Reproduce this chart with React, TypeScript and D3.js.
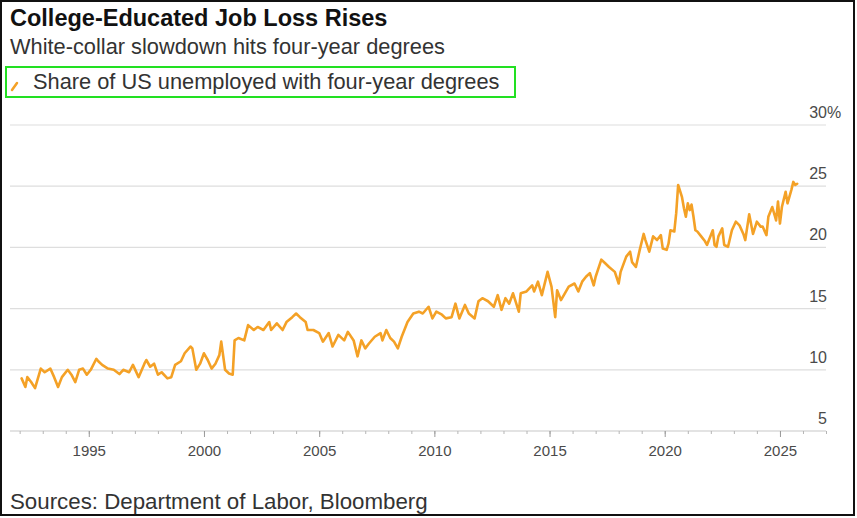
import React, { useEffect, useRef } from 'react';
import * as d3 from 'd3';

// Share of US unemployed with four-year degrees (%)
const months = [
  '1992-02', '1992-04', '1992-05', '1992-07', '1992-09', '1992-12', '1993-02', '1993-05', '1993-07', '1993-09',
  '1993-11', '1994-02', '1994-04', '1994-06', '1994-08', '1994-10', '1994-12', '1995-02', '1995-05', '1995-06',
  '1995-08', '1995-11', '1996-02', '1996-05', '1996-07', '1996-10', '1996-12', '1997-03', '1997-06', '1997-07',
  '1997-09', '1997-11', '1998-01', '1998-03', '1998-06', '1998-08', '1998-10', '1999-01', '1999-03', '1999-06',
  '1999-07', '1999-09', '1999-11', '2000-01', '2000-03', '2000-05', '2000-07', '2000-09', '2000-10', '2000-12',
  '2001-02', '2001-04', '2001-05', '2001-07', '2001-10', '2001-12', '2002-03', '2002-05', '2002-08', '2002-11',
  '2002-12', '2003-03', '2003-06', '2003-08', '2003-11', '2004-01', '2004-03', '2004-06', '2004-07', '2004-10',
  '2005-01', '2005-03', '2005-06', '2005-08', '2005-11', '2006-02', '2006-04', '2006-07', '2006-09', '2006-11',
  '2007-01', '2007-03', '2007-06', '2007-09', '2007-10', '2007-12', '2008-02', '2008-04', '2008-06', '2008-08',
  '2008-10', '2008-11', '2009-02', '2009-05', '2009-07', '2009-10', '2009-12', '2010-02', '2010-05', '2010-07',
  '2010-10', '2010-12', '2011-02', '2011-05', '2011-07', '2011-10', '2011-12', '2012-02', '2012-05', '2012-08',
  '2012-10', '2012-12', '2013-02', '2013-04', '2013-06', '2013-09', '2013-10', '2014-01', '2014-04', '2014-05',
  '2014-07', '2014-09', '2014-12', '2015-02', '2015-04', '2015-05', '2015-07', '2015-09', '2015-11', '2016-02',
  '2016-04', '2016-06', '2016-08', '2016-10', '2016-12', '2017-01', '2017-04', '2017-06', '2017-08', '2017-11',
  '2018-01', '2018-02', '2018-05', '2018-07', '2018-08', '2018-10', '2018-12', '2019-02', '2019-03', '2019-05',
  '2019-07', '2019-09', '2019-11', '2019-12', '2020-02', '2020-03', '2020-04', '2020-06', '2020-07', '2020-08',
  '2020-10', '2020-11', '2020-12', '2021-01', '2021-02', '2021-03', '2021-04', '2021-05', '2021-06', '2021-08',
  '2021-10', '2021-11', '2022-02', '2022-03', '2022-04', '2022-05', '2022-07', '2022-08', '2022-10', '2022-12',
  '2023-02', '2023-04', '2023-06', '2023-07', '2023-09', '2023-11', '2024-01', '2024-03', '2024-04', '2024-06',
  '2024-07', '2024-09', '2024-11', '2024-12', '2025-01', '2025-02', '2025-04', '2025-05', '2025-07', '2025-08',
  '2025-09', '2025-10',
];

const share = [
  9.3, 8.6, 9.4, 9.0, 8.5, 10.1, 9.8, 10.1, 9.4, 8.6,
  9.4, 10.0, 9.6, 9.0, 10.0, 10.1, 9.6, 10.0, 10.9, 10.7,
  10.4, 10.1, 10.0, 9.65, 10.0, 9.8, 10.4, 9.4, 10.5, 10.8,
  10.25, 10.5, 9.6, 9.8, 9.3, 9.4, 10.4, 10.7, 11.35, 11.9,
  11.75, 10.0, 10.5, 11.35, 10.8, 10.1, 10.5, 11.2, 12.3, 10.0,
  9.7, 9.6, 12.4, 12.6, 12.4, 13.65, 13.25, 13.5, 13.25, 13.9,
  13.25, 13.8, 13.25, 13.9, 14.3, 14.6, 14.3, 13.9, 13.25, 13.25,
  13.0, 12.3, 13.0, 11.9, 12.85, 12.4, 13.1, 12.4, 11.1, 12.4,
  11.75, 12.15, 12.7, 13.0, 12.4, 13.25, 12.6, 12.3, 11.75, 12.7,
  13.5, 13.9, 14.6, 14.75, 14.6, 15.15, 14.2, 14.75, 14.5, 14.2,
  14.3, 15.4, 14.2, 15.3, 14.6, 14.2, 15.6, 15.85, 15.6, 15.15,
  16.1, 14.9, 15.85, 15.4, 16.25, 14.75, 16.25, 16.4, 16.9, 16.4,
  17.2, 16.1, 18.0, 16.8, 14.3, 16.5, 15.7, 16.25, 16.8, 17.05,
  16.4, 17.2, 17.6, 17.9, 16.9, 17.6, 19.0, 18.7, 18.4, 18.0,
  17.05, 18.0, 19.25, 19.65, 18.8, 18.4, 19.8, 21.1, 20.6, 19.65,
  20.9, 20.6, 21.0, 19.9, 19.8, 20.3, 21.4, 21.3, 22.8, 25.1,
  24.1, 23.2, 22.5, 23.6, 23.05, 23.5, 22.5, 21.4, 21.3, 20.9,
  20.5, 20.2, 21.4, 20.2, 20.05, 20.9, 21.55, 20.2, 20.05, 21.4,
  22.1, 21.8, 21.1, 20.6, 22.7, 21.1, 22.1, 21.7, 21.7, 21.0,
  22.5, 23.3, 22.2, 23.75, 21.95, 23.3, 24.55, 23.6, 24.7, 25.35,
  25.1, 25.2,
];

const yTicks = [5, 10, 15, 20, 25, 30];
const majorYears = [1995, 2000, 2005, 2010, 2015, 2020, 2025];

const title = 'College-Educated Job Loss Rises';
const subtitle = 'White-collar slowdown hits four-year degrees';
const legendLabel = 'Share of US unemployed with four-year degrees';
const source = 'Sources: Department of Labor, Bloomberg';

const W = 857;
const H = 518;
const lineColor = '#f4a126';
const font = '"Liberation Sans", Arial, sans-serif';

interface Point {
  date: Date;
  value: number;
}

const App: React.FC = () => {
  const axisRef = useRef<SVGGElement>(null);

  const parse = d3.timeParse('%Y-%m');
  const data: Point[] = months.map((m, i) => ({ date: parse(m) as Date, value: share[i] }));

  const x = d3.scaleTime()
    .domain([new Date(1991, 7, 1), new Date(2027, 0, 1)])
    .range([10, 826]);

  const y = d3.scaleLinear()
    .domain([5, 30])
    .range([431, 125]);

  const line = d3.line<Point>()
    .x(d => x(d.date))
    .y(d => y(d.value));

  useEffect(() => {
    if (!axisRef.current) return;
    const g = d3.select(axisRef.current);
    g.selectAll('*').remove();

    // minor ticks every year
    const minor = d3.axisBottom(x)
      .ticks(d3.timeYear.every(1))
      .tickSize(3)
      .tickFormat(() => '');
    const gm = g.append('g').attr('transform', `translate(0,${y(5)})`).call(minor);
    gm.select('.domain').remove();
    gm.selectAll('line').attr('stroke', '#b5b5b5');

    // major ticks with labels
    const major = d3.axisBottom(x)
      .tickValues(majorYears.map(yr => new Date(yr, 0, 1)))
      .tickSize(6)
      .tickPadding(8)
      .tickFormat(d => d3.timeFormat('%Y')(d as Date));
    const gM = g.append('g').attr('transform', `translate(0,${y(5)})`).call(major);
    gM.select('.domain').remove();
    gM.selectAll('line').attr('stroke', '#9a9a9a');
    gM.selectAll('text')
      .attr('fill', '#4a4a4a')
      .attr('font-size', 15)
      .attr('font-family', font);
  }, []);

  return (
    <svg
      width={W}
      height={H}
      viewBox={`0 0 ${W} ${H}`}
      style={{ position: 'absolute', left: 0, top: 0, background: '#fff' }}
    >
      <rect x={0} y={0} width={W} height={H} fill="#fff" />

      <text x={10} y={26} fontFamily={font} fontWeight="bold" fontSize={23.5} fill="#111">
        {title}
      </text>
      <text x={10} y={54} fontFamily={font} fontSize={21.8} fill="#333">
        {subtitle}
      </text>

      {/* legend */}
      <rect x={6} y={67} width={509} height={30} fill="none" stroke="#22e022" strokeWidth={2} />
      <line x1={12} y1={90} x2={17} y2={83} stroke={lineColor} strokeWidth={2.5} strokeLinecap="round" />
      <text x={33} y={89} fontFamily={font} fontSize={21.8} fill="#333">
        {legendLabel}
      </text>

      {/* gridlines */}
      {yTicks.map(t => (
        <line
          key={t}
          x1={10}
          x2={826}
          y1={y(t)}
          y2={y(t)}
          stroke={t === 5 ? '#c8c8c8' : '#dedede'}
          strokeWidth={1.2}
        />
      ))}

      {/* y labels, right side */}
      {yTicks.map(t => (
        <text
          key={`l${t}`}
          x={827}
          y={y(t) - 7}
          textAnchor="end"
          fontFamily={font}
          fontSize={16}
          fill="#4a4a4a"
        >
          {t}
        </text>
      ))}
      <text x={827} y={y(30) - 7} fontFamily={font} fontSize={16} fill="#4a4a4a">%</text>

      <g ref={axisRef} />

      <path
        d={line(data) ?? ''}
        fill="none"
        stroke={lineColor}
        strokeWidth={2.6}
        strokeLinejoin="round"
        strokeLinecap="round"
      />

      <text x={10} y={509} fontFamily={font} fontSize={22.3} fill="#333">
        {source}
      </text>

      {/* outer frame */}
      <rect x={1} y={1} width={853} height={514} fill="none" stroke="#111" strokeWidth={2} />
    </svg>
  );
};

export default App;
